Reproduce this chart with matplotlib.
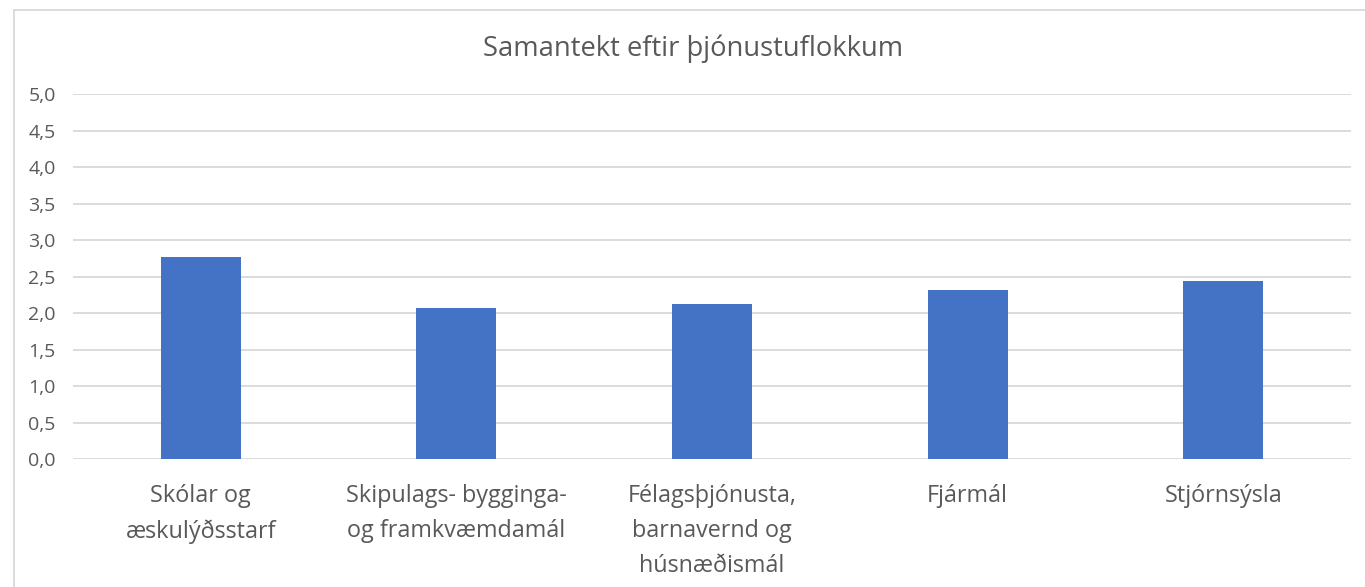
import matplotlib
matplotlib.use("Agg")
import matplotlib.pyplot as plt
from matplotlib.lines import Line2D
from matplotlib.ticker import FuncFormatter

categories = [
    "Skólar og\næskulýðsstarf",
    "Skipulags- bygginga-\nog framkvæmdamál",
    "Félagsþjónusta,\nbarnavernd og\nhúsnæðismál",
    "Fjármál",
    "Stjórnsýsla",
]
values = [2.77, 2.07, 2.13, 2.32, 2.44]
yticks = [0.0, 0.5, 1.0, 1.5, 2.0, 2.5, 3.0, 3.5, 4.0, 4.5, 5.0]

plt.rcParams['font.family'] = ['Open Sans', 'DejaVu Sans']

W, H = 1365, 587
fig = plt.figure(figsize=(W / 100, H / 100), dpi=100)
ax = fig.add_axes([73 / W, 1 - 459.3 / H, (1351 - 73) / W, (459.3 - 94.3) / H])

x = list(range(len(categories)))
ax.bar(x, values, width=0.313, color="#4472C4", zorder=3)
ax.set_xlim(-0.5, len(categories) - 0.5)
ax.set_ylim(0, 5)
ax.set_yticks(yticks)
ax.yaxis.set_major_formatter(FuncFormatter(lambda v, p: f"{v:.1f}".replace(".", ",")))
ax.grid(axis="y", color="#d9d9d9", linewidth=1.3, zorder=0)
ax.set_axisbelow(True)
for s in ax.spines.values():
    s.set_visible(False)
ax.tick_params(axis="y", length=0, pad=12.5, labelsize=14, labelcolor="#595959")
ax.tick_params(axis="x", length=0, pad=18, labelsize=16.8, labelcolor="#595959")
ax.set_xticks(x)
ax.set_xticklabels(categories, linespacing=1.6, ha="center", va="top")

fig.text(693.5 / W, 1 - 49 / H, "Samantekt eftir þjónustuflokkum",
         ha="center", va="center", fontsize=19.7, color="#595959")

# chart border (left and top visible)
fig.add_artist(Line2D([14 / W, 14 / W], [0, 1 - 10 / H], transform=fig.transFigure,
                      color="#d9d9d9", linewidth=1.3))
fig.add_artist(Line2D([14 / W, 1], [1 - 10 / H, 1 - 10 / H], transform=fig.transFigure,
                      color="#d9d9d9", linewidth=1.3))

fig.savefig("out.png", dpi=100, facecolor="white")
